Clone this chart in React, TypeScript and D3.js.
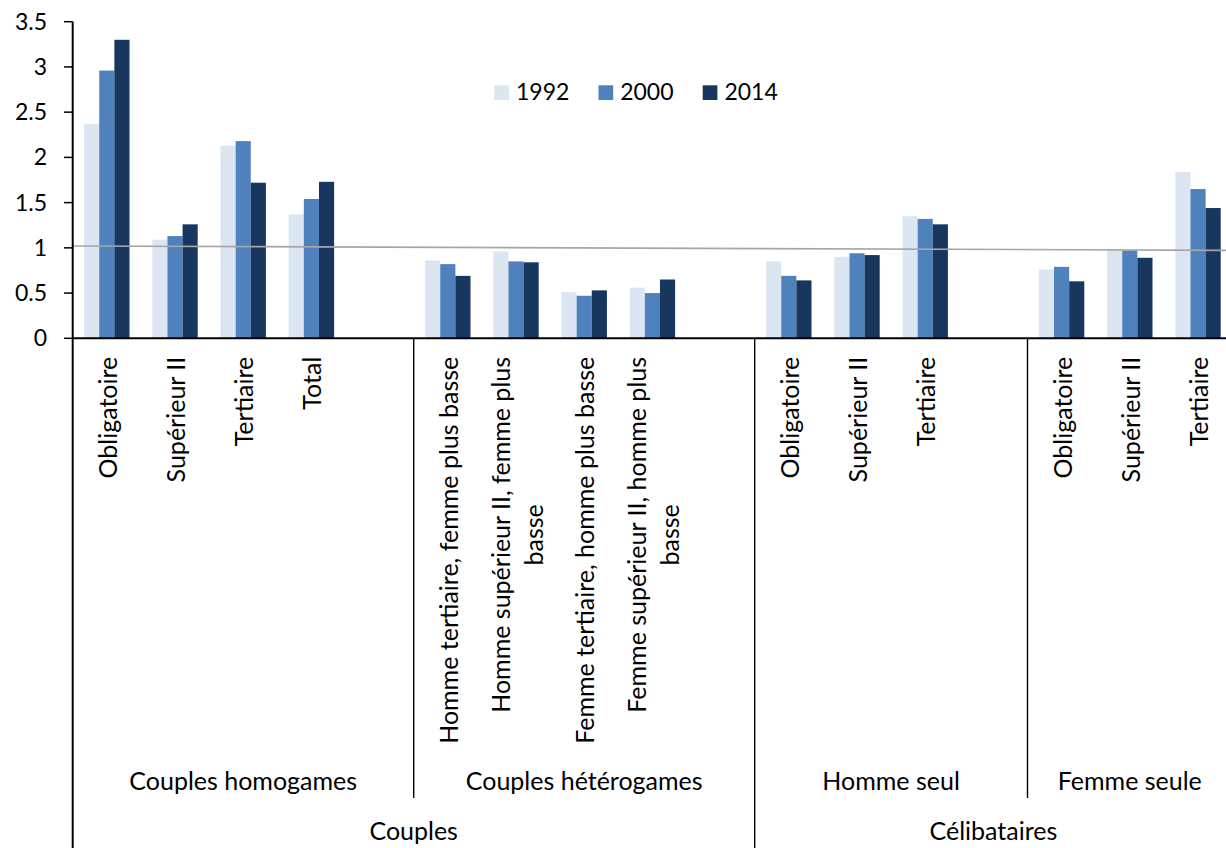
import React from "react";
import * as d3 from "d3";

const categories = [
  "Obligatoire",
  "Supérieur II",
  "Tertiaire",
  "Total",
  "",
  "Homme tertiaire, femme plus basse",
  "Homme supérieur II, femme plus\nbasse",
  "Femme tertiaire, homme plus basse",
  "Femme supérieur II, homme plus\nbasse",
  "",
  "Obligatoire",
  "Supérieur II",
  "Tertiaire",
  "",
  "Obligatoire",
  "Supérieur II",
  "Tertiaire",
];

const seriesNames = ["1992", "2000", "2014"];
const values1992 = [2.37, 1.09, 2.13, 1.37, null, 0.86, 0.96, 0.51, 0.56, null, 0.85, 0.9, 1.35, null, 0.76, 0.98, 1.84];
const values2000 = [2.96, 1.13, 2.18, 1.54, null, 0.82, 0.85, 0.47, 0.5, null, 0.69, 0.94, 1.32, null, 0.79, 0.97, 1.65];
const values2014 = [3.3, 1.26, 1.72, 1.73, null, 0.69, 0.84, 0.53, 0.65, null, 0.64, 0.92, 1.26, null, 0.63, 0.89, 1.44];
const seriesColors = ["#DCE6F2", "#4F81BD", "#17375E"];

const subgroupLabels = ["Couples homogames", "Couples hétérogames", "Homme seul", "Femme seule"];
const subgroupSizes = [5, 5, 4, 3];
const topGroupLabels = ["Couples", "Célibataires"];
const topGroupSizes = [10, 7];

const yTicks = [0, 0.5, 1, 1.5, 2, 2.5, 3, 3.5];
const refLineValues = [1.021, 0.972];

const FONT = "Lato, 'Open Sans', sans-serif";

function measure(text: string, font: string): number {
  const c = document.createElement("canvas").getContext("2d");
  if (!c) return text.length * 12;
  c.font = font;
  return c.measureText(text).width;
}

export default function App() {
  const W = 1226;
  const H = 848;
  const x0 = 72.7;
  const slot = 68.2;
  const x1 = x0 + slot * categories.length;
  const yTop = 21.7;
  const yBase = 338.3;

  const x = d3
    .scaleBand<number>()
    .domain(categories.map((_, i) => i))
    .range([x0, x1])
    .padding(0);
  const inner = d3
    .scaleBand<string>()
    .domain(seriesNames)
    .range([11.4, slot - 11.4])
    .padding(0);
  const y = d3.scaleLinear().domain([0, 3.5]).range([yBase, yTop]);

  const allSeries = [values1992, values2000, values2014];
  const catFontSize = 25;
  const smallFontSize = 23;
  const catFont = `${catFontSize}px Lato`;
  const labelTop = 356.7;
  const lineH = 33;

  const boundaries: { x: number; bottom: number }[] = [];
  let acc = 0;
  const subPos: { label: string; cx: number }[] = [];
  subgroupSizes.forEach((n, i) => {
    const s = x(acc)!;
    acc += n;
    const e = acc < categories.length ? x(acc)! : x1;
    subPos.push({ label: subgroupLabels[i], cx: (s + e) / 2 });
    if (acc < categories.length) boundaries.push({ x: e, bottom: 798 });
  });
  let acc2 = 0;
  const topPos: { label: string; cx: number }[] = [];
  topGroupSizes.forEach((n, i) => {
    const s = x(acc2)!;
    acc2 += n;
    const e = acc2 < categories.length ? x(acc2)! : x1;
    topPos.push({ label: topGroupLabels[i], cx: (s + e) / 2 });
    if (acc2 < categories.length) {
      const b = boundaries.find((bb) => Math.abs(bb.x - e) < 0.5);
      if (b) b.bottom = H + 5;
      else boundaries.push({ x: e, bottom: H + 5 });
    }
  });

  return (
    <div style={{ position: "absolute", left: 0, top: 0, width: W, height: H, overflow: "hidden", background: "#fff" }}>
      <svg width={W} height={H} style={{ display: "block" }} fontFamily={FONT}>
        <rect x={0} y={0} width={W} height={H} fill="#fff" />
        {/* bars */}
        {allSeries.map((vals, si) => (
          <g key={si}>
            {vals.map((v, ci) =>
              v == null ? null : (
                <rect
                  key={ci}
                  x={x(ci)! + inner(seriesNames[si])!}
                  y={y(v)}
                  width={inner.bandwidth()}
                  height={yBase - y(v)}
                  fill={seriesColors[si]}
                />
              )
            )}
          </g>
        ))}
        {/* reference line */}
        <line
          x1={x0}
          x2={x1}
          y1={y(refLineValues[0])}
          y2={y(refLineValues[1])}
          stroke="#A6A6A6"
          strokeWidth={1.6}
        />
        {/* y axis */}
        <line x1={x0} x2={x0} y1={yTop} y2={H + 5} stroke="#000" strokeWidth={2} />
        {yTicks.map((t) => (
          <g key={t}>
            <line x1={64} x2={x0} y1={y(t)} y2={y(t)} stroke="#000" strokeWidth={1.5} />
            <text x={47} y={y(t) + 8} textAnchor="end" fontSize={smallFontSize} fill="#000">
              {String(t)}
            </text>
          </g>
        ))}
        {/* x axis */}
        <line x1={x0} x2={x1} y1={yBase} y2={yBase} stroke="#000" strokeWidth={2} />
        {boundaries.map((b, i) => (
          <line key={i} x1={b.x} x2={b.x} y1={yBase} y2={b.bottom} stroke="#000" strokeWidth={1.4} />
        ))}
        {/* category labels */}
        {categories.map((c, ci) => {
          if (!c) return null;
          const lines = c.split("\n");
          const cx = x(ci)! + slot / 2;
          if (lines.length === 1) {
            return (
              <text
                key={ci}
                transform={`translate(${cx},${labelTop}) rotate(-90)`}
                textAnchor="end"
                dominantBaseline="central"
                fontSize={catFontSize}
                fill="#000"
              >
                {c}
              </text>
            );
          }
          const L = Math.max(...lines.map((l) => measure(l, catFont)));
          const cy = labelTop + L / 2;
          return (
            <g key={ci}>
              {lines.map((l, li) => (
                <text
                  key={li}
                  transform={`translate(${cx + (li - (lines.length - 1) / 2) * lineH},${cy}) rotate(-90)`}
                  textAnchor="middle"
                  dominantBaseline="central"
                  fontSize={catFontSize}
                  fill="#000"
                >
                  {l}
                </text>
              ))}
            </g>
          );
        })}
        {/* subgroup labels */}
        {subPos.map((s) => (
          <text key={s.label} x={s.cx} y={790} textAnchor="middle" fontSize={catFontSize} fill="#000">
            {s.label}
          </text>
        ))}
        {topPos.map((s) => (
          <text key={s.label} x={s.cx} y={840} textAnchor="middle" fontSize={catFontSize} fill="#000">
            {s.label}
          </text>
        ))}
        {/* legend */}
        {seriesNames.map((n, i) => (
          <g key={n} transform={`translate(${494.3 + i * 104.2},85.3)`}>
            <rect x={0} y={0} width={14.7} height={14.7} fill={seriesColors[i]} />
            <text x={21.7} y={14.5} fontSize={smallFontSize} fill="#000">
              {n}
            </text>
          </g>
        ))}
      </svg>
    </div>
  );
}
